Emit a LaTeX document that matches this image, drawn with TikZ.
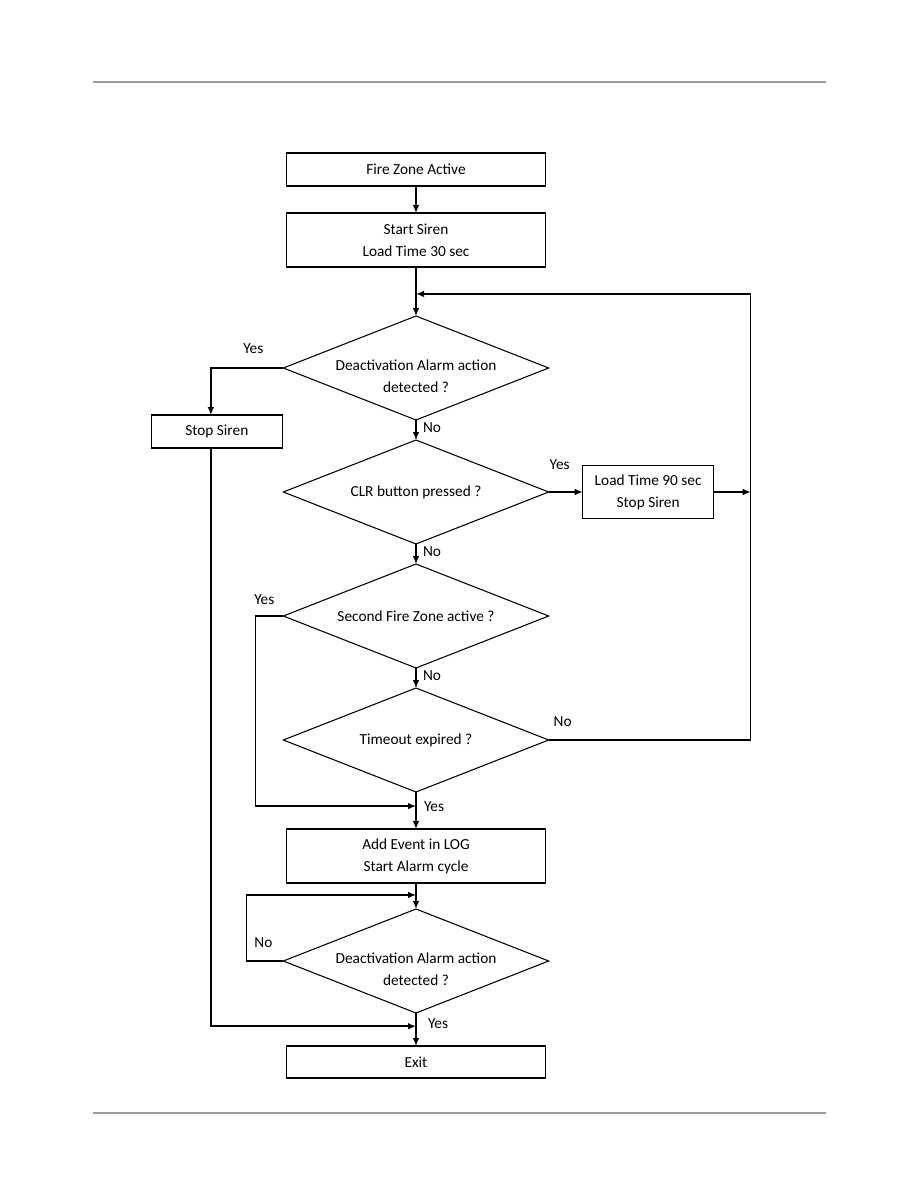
\documentclass[tikz,border=0pt]{standalone}
\usepackage{fontspec}
\setmainfont{Carlito}
\usetikzlibrary{shapes.geometric,arrows.meta,positioning,calc}

% two lines set a little below the diamond centre
\newcommand{\lowlines}[2]{\raisebox{-10pt}[0pt][0pt]{\begin{tabular}{@{}c@{}}#1\\#2\end{tabular}}}

\begin{document}
\begin{tikzpicture}[
    block/.style={rectangle, draw, minimum width=194pt, minimum height=24.75pt, align=center, inner sep=0pt, outer sep=0pt, line width=0.8pt},
    sideblock/.style={block, minimum width=98.25pt},
    decision/.style={diamond, draw, aspect=2.55, minimum width=199pt, minimum height=78pt, align=center, inner sep=0pt, outer sep=0pt, line width=0.8pt},
    arrow/.style={-{Latex[length=6pt,width=5pt]}, line width=1.1pt},
    lbl/.style={inner sep=0pt},
    font=\fontsize{11.5}{16.5}\selectfont
]
    \useasboundingbox (0,0) rectangle (688.5pt,-891pt);
    % page rules
    \draw[line width=1.9pt, black!38] (69.75pt,-61.5pt) -- (619.5pt,-61.5pt);
    \draw[line width=1.9pt, black!38] (69.75pt,-834.75pt) -- (619.5pt,-834.75pt);

    % main column
    \node[block] (fza) at (312pt,-127.125pt) {Fire Zone Active};
    \node[block, minimum height=40.5pt, below=20.25pt of fza] (start) {Start Siren\\Load Time 30 sec};
    \node[decision, below=36.75pt of start] (deact) {\lowlines{Deactivation Alarm action}{detected ?}};
    \node[decision, below=15pt of deact] (clr) {CLR button pressed ?};
    \node[decision, below=15pt of clr] (second) {Second Fire Zone active ?};
    \node[decision, below=15pt of second] (tmo) {Timeout expired ?};
    \node[block, minimum height=40.5pt, below=27.75pt of tmo] (addlog) {Add Event in LOG\\Start Alarm cycle};
    \node[decision, below=19.5pt of addlog] (deact2) {\lowlines{Deactivation Alarm action}{detected ?}};
    \node[block, minimum height=24pt, below=24.75pt of deact2] (exit) {Exit};

    % side boxes
    \node[sideblock, below left=35.25pt and 0.75pt of deact.west] (stop) {Stop Siren};
    \node[sideblock, minimum height=39.75pt, right=25.5pt of clr] (load) {Load Time 90 sec\\Stop Siren};

    % junctions
    \coordinate[right=151.5pt of tmo.east] (ret);
    \coordinate (m1) at ($(start.south)!0.55!(deact.north)$);
    \coordinate (m4) at ($(tmo.south)!0.38!(addlog.north)$);
    \coordinate (m5a) at ($(addlog.south)!0.46!(deact2.north)$);
    \coordinate (m5b) at ($(deact2.south)!0.4!(exit.north)$);

    % connectors
    \draw[arrow] (fza) -- (start);
    \draw[arrow] (start) -- (deact);
    \draw[arrow] (tmo.east) -- (ret) |- (m1);
    \draw[arrow] (deact.west) -| ([xshift=-4.5pt]stop.north);
    \draw[arrow] (deact) -- (clr);
    \draw[arrow] (clr) -- (load);
    \draw[arrow] (load.east) -- (load.east -| ret);
    \draw[arrow] (clr) -- (second);
    \draw[arrow] (second.west) -- ++(-21pt,0) |- (m4);
    \draw[arrow] (second) -- (tmo);
    \draw[arrow] (tmo) -- (addlog);
    \draw[arrow] (addlog) -- (deact2);
    \draw[arrow] (deact2.west) -- ++(-27.75pt,0) |- (m5a);
    \draw[arrow] ([xshift=-4.5pt]stop.south) |- (m5b);
    \draw[arrow] (deact2) -- (exit);

    % labels
    \node[lbl] (yes1) at ($(deact.west)+(-22.5pt,14.25pt)$) {Yes};
    \node[lbl] (no1) at ($(deact.south)+(12pt,-6pt)$) {No};
    \node[lbl] (yes2) at ($(clr.east)+(8.25pt,20.25pt)$) {Yes};
    \node[lbl] (no2) at ($(clr.south)+(12pt,-6pt)$) {No};
    \node[lbl] (yes3) at ($(second.west)+(-14.25pt,12pt)$) {Yes};
    \node[lbl] (no3) at ($(second.south)+(12pt,-6pt)$) {No};
    \node[lbl] (no4) at ($(tmo.east)+(10.5pt,13.5pt)$) {No};
    \node[lbl] (yes4) at ($(tmo.south)+(13.5pt,-11.25pt)$) {Yes};
    \node[lbl] (no5) at ($(deact2.west)+(-15pt,13.5pt)$) {No};
    \node[lbl] (yes5) at ($(deact2.south)+(16.5pt,-8.25pt)$) {Yes};
\end{tikzpicture}
\end{document}
